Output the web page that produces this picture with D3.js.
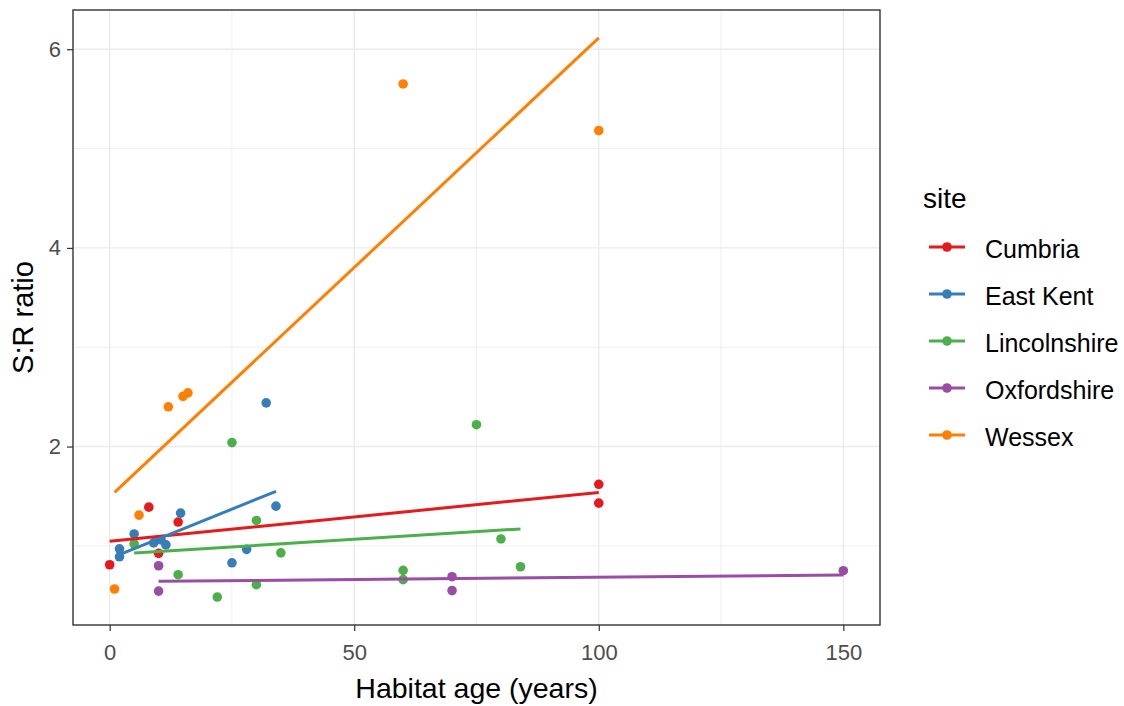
<!DOCTYPE html>
<html><head><meta charset="utf-8">
<script src="https://cdn.jsdelivr.net/npm/d3@7"></script>
<style>body{margin:0;background:#fff;} text{font-family:"Liberation Sans",Arial,sans-serif;}</style>
</head><body>
<svg id="chart" width="1124" height="706"></svg>
<script>
const sites = ["Cumbria", "East Kent", "Lincolnshire", "Oxfordshire", "Wessex"];
const colors = ["#E41A1C", "#377EB8", "#4DAF4A", "#984EA3", "#FF7F00"];

const cumbriaAge = [0, 8, 10, 14, 100, 100];
const cumbriaSR  = [0.81, 1.39, 0.925, 1.24, 1.62, 1.43];
const eastKentAge = [2, 2, 5, 9, 10.5, 11.5, 14.5, 25, 28, 32, 34];
const eastKentSR  = [0.97, 0.89, 1.12, 1.03, 1.06, 1.01, 1.33, 0.83, 0.965, 2.44, 1.40];
const lincsAge = [5, 14, 22, 25, 30, 30, 35, 60, 60, 75, 80, 84];
const lincsSR  = [1.02, 0.71, 0.485, 2.04, 1.256, 0.61, 0.93, 0.754, 0.66, 2.22, 1.07, 0.79];
const oxfordAge = [10, 10, 70, 70, 150];
const oxfordSR  = [0.80, 0.545, 0.69, 0.55, 0.75];
const wessexAge = [1, 6, 12, 15, 16, 60, 100];
const wessexSR  = [0.566, 1.31, 2.40, 2.505, 2.54, 5.65, 5.18];

const xTicks = [0, 50, 100, 150];
const yTicks = [2, 4, 6];
const xMinor = [25, 75, 125];
const yMinor = [1, 3, 5];

const ages = [cumbriaAge, eastKentAge, lincsAge, oxfordAge, wessexAge];
const srs = [cumbriaSR, eastKentSR, lincsSR, oxfordSR, wessexSR];

const groups = sites.map((s, i) => {
  const xs = ages[i], ys = srs[i];
  const pts = xs.map((x, j) => ({x, y: ys[j]}));
  const mx = d3.mean(xs), my = d3.mean(ys);
  let sxy = 0, sxx = 0;
  xs.forEach((x, j) => { sxy += (x - mx) * (ys[j] - my); sxx += (x - mx) ** 2; });
  const b = sxy / sxx, a = my - b * mx;
  const x0 = d3.min(xs), x1 = d3.max(xs);
  return {site: s, color: colors[i], pts, fit: [{x: x0, y: a + b * x0}, {x: x1, y: a + b * x1}]};
});

const L = 73, R = 880, T = 10, B = 625;
const allX = groups.flatMap(g => g.pts.map(p => p.x));
const allY = groups.flatMap(g => g.pts.map(p => p.y).concat(g.fit.map(p => p.y)));
const [xmin, xmax] = d3.extent(allX), [ymin, ymax] = d3.extent(allY);
const xe = (xmax - xmin) * 0.05, ye = (ymax - ymin) * 0.05;
const x = d3.scaleLinear().domain([xmin - xe, xmax + xe]).range([L, R]);
const y = d3.scaleLinear().domain([ymin - ye, ymax + ye]).range([B, T]);

const svg = d3.select("#chart");
const grid = svg.append("g");
grid.selectAll(".xm").data(xMinor).join("line")
  .attr("x1", d => x(d)).attr("x2", d => x(d)).attr("y1", T).attr("y2", B)
  .attr("stroke", "#EBEBEB").attr("stroke-width", 0.8);
grid.selectAll(".ym").data(yMinor).join("line")
  .attr("y1", d => y(d)).attr("y2", d => y(d)).attr("x1", L).attr("x2", R)
  .attr("stroke", "#EBEBEB").attr("stroke-width", 0.8);
grid.selectAll(".xM").data(xTicks).join("line")
  .attr("x1", d => x(d)).attr("x2", d => x(d)).attr("y1", T).attr("y2", B)
  .attr("stroke", "#EBEBEB").attr("stroke-width", 1.4);
grid.selectAll(".yM").data(yTicks).join("line")
  .attr("y1", d => y(d)).attr("y2", d => y(d)).attr("x1", L).attr("x2", R)
  .attr("stroke", "#EBEBEB").attr("stroke-width", 1.4);

const line = d3.line().x(d => x(d.x)).y(d => y(d.y));
groups.forEach(g => {
  svg.append("g").selectAll("circle").data(g.pts).join("circle")
    .attr("cx", d => x(d.x)).attr("cy", d => y(d.y)).attr("r", 4.8).attr("fill", g.color);
});
groups.forEach(g => {
  svg.append("path").attr("d", line(g.fit)).attr("fill", "none")
    .attr("stroke", g.color).attr("stroke-width", 3);
});

svg.append("rect").attr("x", L).attr("y", T).attr("width", R - L).attr("height", B - T)
  .attr("fill", "none").attr("stroke", "#333333").attr("stroke-width", 1.4);

const xAxis = svg.append("g").attr("transform", `translate(0,${B})`)
  .call(d3.axisBottom(x).tickValues(xTicks).tickFormat(d3.format("d")).tickSize(6).tickPadding(13));
const yAxis = svg.append("g").attr("transform", `translate(${L},0)`)
  .call(d3.axisLeft(y).tickValues(yTicks).tickFormat(d3.format("d")).tickSize(6).tickPadding(6));
[xAxis, yAxis].forEach(a => {
  a.select(".domain").remove();
  a.selectAll(".tick line").attr("stroke", "#333333").attr("stroke-width", 1.2);
  a.selectAll(".tick text").attr("fill", "#4D4D4D").style("font-size", "22px");
});

svg.append("text").attr("x", (L + R) / 2).attr("y", 698).attr("text-anchor", "middle")
  .style("font-size", "28.5px").attr("fill", "#000").text("Habitat age (years)");
svg.append("text").attr("transform", `translate(33,${(T + B) / 2}) rotate(-90)`)
  .attr("text-anchor", "middle").style("font-size", "29px").attr("fill", "#000").text("S:R ratio");

const leg = svg.append("g");
leg.append("text").attr("x", 923).attr("y", 208).style("font-size", "28px").text("site");
groups.forEach((g, i) => {
  const yy = 247 + i * 47;
  leg.append("line").attr("x1", 929).attr("x2", 965).attr("y1", yy).attr("y2", yy)
    .attr("stroke", g.color).attr("stroke-width", 3);
  leg.append("circle").attr("cx", 947).attr("cy", yy).attr("r", 4.8).attr("fill", g.color);
  leg.append("text").attr("x", 985).attr("y", yy + 11).style("font-size", "25px").text(g.site);
});
</script>
</body></html>
